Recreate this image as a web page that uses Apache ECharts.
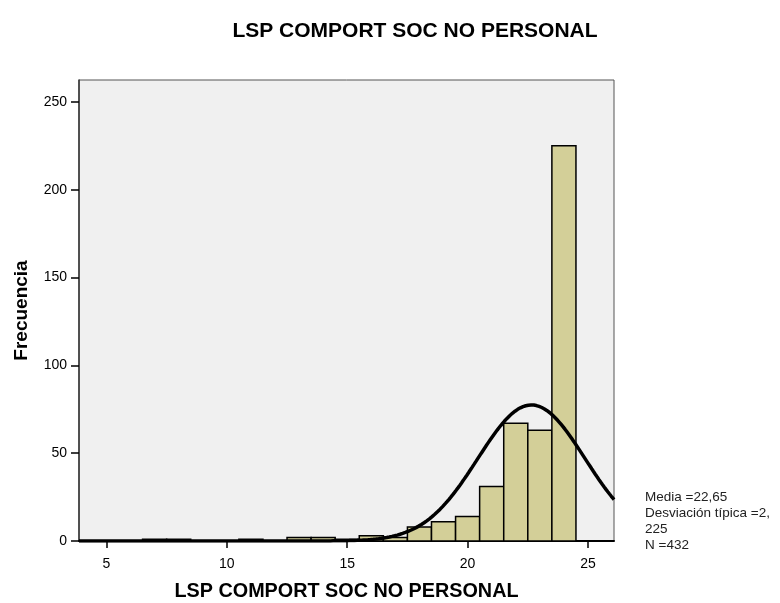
<!DOCTYPE html>
<html>
<head>
<meta charset="utf-8">
<script src="https://cdn.jsdelivr.net/npm/echarts@6/dist/echarts.min.js"></script>
<style>
  html, body { margin: 0; padding: 0; background: #ffffff; }
  #chart { width: 780px; height: 603px; }
</style>
</head>
<body>
<div id="chart"></div>
<script>
// Histogram bins: integer score centres and their frequencies
var binCenters = [7, 8, 11, 13, 14, 15, 16, 17, 18, 19, 20, 21, 22, 23, 24];
var binCounts  = [1, 1, 1, 2, 2, 1, 3, 2, 8, 11, 14, 31, 67, 63, 225];
var binWidth = 1;

// Summary statistics shown beside the plot
var statMean = 22.65;
var statSd = 2.225;
var statN = 432;
var statLines = ['Media =22,65', 'Desviación típica =2,', '225', 'N =432'];

// Axis ranges and tick labels
var xRange = [3.86, 26.08];
var xTicks = [5, 10, 15, 20, 25];
var yRange = [0, 262.5];

var titleText = 'LSP COMPORT SOC NO PERSONAL';
var xName = 'LSP COMPORT SOC NO PERSONAL';
var yName = 'Frecuencia';

// Fitted normal curve scaled to the histogram (N * bin width * density)
var curve = [];
for (var i = 0; i <= 600; i++) {
  var x = xRange[0] + (xRange[1] - xRange[0]) * i / 600;
  var z = (x - statMean) / statSd;
  var y = statN * binWidth * Math.exp(-0.5 * z * z) / (statSd * Math.sqrt(2 * Math.PI));
  curve.push([x, y]);
}

var barData = binCenters.map(function (c, i) { return [c, binCounts[i]]; });

var font = 'Liberation Sans, Arial, Helvetica, sans-serif';
var chart = echarts.init(document.getElementById('chart'), null, { renderer: 'canvas' });

chart.setOption({
  animation: false,
  backgroundColor: '#ffffff',
  title: {
    text: titleText,
    left: 410,
    top: 16,
    textAlign: 'center',
    textStyle: { fontFamily: font, fontSize: 21, fontWeight: 'bold', color: '#000' }
  },
  grid: {
    left: 79, right: 166, top: 80, bottom: 62,
    outerBoundsMode: 'none',
    containLabel: false,
    show: true,
    backgroundColor: '#f0f0f0',
    borderColor: '#555555',
    borderWidth: 1
  },
  xAxis: {
    type: 'value',
    min: xRange[0],
    max: xRange[1],
    name: xName,
    nameLocation: 'middle',
    nameGap: 41,
    nameTextStyle: { fontFamily: font, fontSize: 19.8, fontWeight: 'bold', color: '#000' },
    axisLine: { show: true, onZero: false, lineStyle: { color: '#000', width: 2 } },
    axisTick: { show: true, length: 7, customValues: xTicks, lineStyle: { color: '#000', width: 1.5 } },
    axisLabel: { customValues: xTicks, margin: 16, fontFamily: font, fontSize: 14, color: '#000' },
    splitLine: { show: false }
  },
  yAxis: {
    type: 'value',
    min: yRange[0],
    max: yRange[1],
    interval: 50,
    name: yName,
    nameLocation: 'middle',
    nameGap: 48,
    nameTextStyle: { fontFamily: font, fontSize: 19, fontWeight: 'bold', color: '#000' },
    axisLine: { show: true, lineStyle: { color: '#333', width: 1.5 } },
    axisTick: { show: true, length: 8, lineStyle: { color: '#000', width: 1.5 } },
    axisLabel: { margin: 12, fontFamily: font, fontSize: 14, color: '#000', showMaxLabel: false },
    splitLine: { show: false }
  },
  series: [
    {
      type: 'custom',
      data: barData,
      renderItem: function (params, api) {
        var c = api.value(0);
        var v = api.value(1);
        var p0 = api.coord([c - binWidth / 2, v]);
        var p1 = api.coord([c + binWidth / 2, 0]);
        return {
          type: 'rect',
          shape: { x: p0[0], y: p0[1], width: p1[0] - p0[0], height: p1[1] - p0[1] },
          style: { fill: '#d3cf98', stroke: '#000', lineWidth: 1.5 }
        };
      },
      z: 2
    },
    {
      type: 'line',
      data: curve,
      showSymbol: false,
      symbol: 'none',
      clip: true,
      lineStyle: { color: '#000', width: 3.5 },
      z: 3
    }
  ],
  graphic: [
    {
      type: 'text',
      left: 645,
      top: 489,
      style: {
        text: statLines.join('\n'),
        fontFamily: font,
        fontSize: 13.5,
        lineHeight: 16,
        fill: '#222'
      }
    }
  ]
});
</script>
</body>
</html>
